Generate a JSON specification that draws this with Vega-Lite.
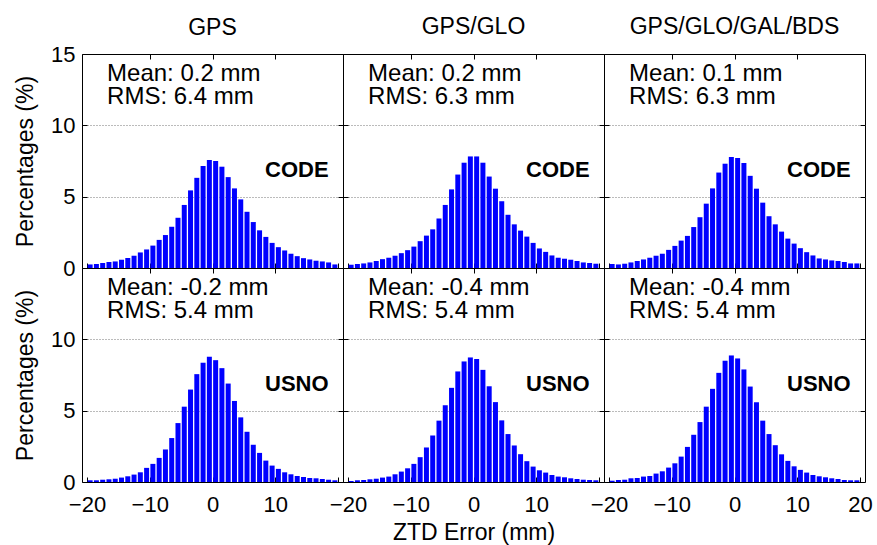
{
  "$schema": "https://vega.github.io/schema/vega-lite/v6.json",
  "background": "white",
  "padding": {"left": 14, "top": 15, "right": 5, "bottom": 2},
  "columns": 3,
  "spacing": 0,
  "bounds": "flush",
  "config": {
    "font": "Liberation Sans",
    "view": {"stroke": "#000000", "strokeWidth": 1},
    "concat": {"spacing": 0},
    "axis": {
      "domain": false,
      "labelFont": "Liberation Sans",
      "labelFontSize": 22,
      "labelColor": "#000000",
      "labelFlush": false,
      "labelPadding": 12,
      "tickColor": "#000000",
      "tickSize": -5,
      "grid": false,
      "gridColor": "#777777",
      "gridDash": [1, 2],
      "titleFont": "Liberation Sans",
      "titleFontSize": 23,
      "titleFontWeight": "normal",
      "titleColor": "#000000",
      "titlePadding": 10
    },
    "title": {"font": "Liberation Sans", "fontSize": 23, "fontWeight": "normal", "color": "#000000", "offset": 15, "frame": "group", "anchor": "middle"}
  },
  "datasets": {
    "notes": [
      {"system": "GPS", "center": "CODE", "mean": "Mean: 0.2 mm", "rms": "RMS: 6.4 mm"},
      {"system": "GPS/GLO", "center": "CODE", "mean": "Mean: 0.2 mm", "rms": "RMS: 6.3 mm"},
      {"system": "GPS/GLO/GAL/BDS", "center": "CODE", "mean": "Mean: 0.1 mm", "rms": "RMS: 6.3 mm"},
      {"system": "GPS", "center": "USNO", "mean": "Mean: -0.2 mm", "rms": "RMS: 5.4 mm"},
      {"system": "GPS/GLO", "center": "USNO", "mean": "Mean: -0.4 mm", "rms": "RMS: 5.4 mm"},
      {"system": "GPS/GLO/GAL/BDS", "center": "USNO", "mean": "Mean: -0.4 mm", "rms": "RMS: 5.4 mm"}
    ],
    "hist": [
      {"system": "GPS", "center": "CODE", "error": -19.5, "pct": 0.25},
      {"system": "GPS", "center": "CODE", "error": -18.5, "pct": 0.28},
      {"system": "GPS", "center": "CODE", "error": -17.5, "pct": 0.35},
      {"system": "GPS", "center": "CODE", "error": -16.5, "pct": 0.42},
      {"system": "GPS", "center": "CODE", "error": -15.5, "pct": 0.46},
      {"system": "GPS", "center": "CODE", "error": -14.5, "pct": 0.58},
      {"system": "GPS", "center": "CODE", "error": -13.5, "pct": 0.7},
      {"system": "GPS", "center": "CODE", "error": -12.5, "pct": 0.86},
      {"system": "GPS", "center": "CODE", "error": -11.5, "pct": 1.09},
      {"system": "GPS", "center": "CODE", "error": -10.5, "pct": 1.3},
      {"system": "GPS", "center": "CODE", "error": -9.5, "pct": 1.57},
      {"system": "GPS", "center": "CODE", "error": -8.5, "pct": 1.97},
      {"system": "GPS", "center": "CODE", "error": -7.5, "pct": 2.31},
      {"system": "GPS", "center": "CODE", "error": -6.5, "pct": 2.89},
      {"system": "GPS", "center": "CODE", "error": -5.5, "pct": 3.52},
      {"system": "GPS", "center": "CODE", "error": -4.5, "pct": 4.42},
      {"system": "GPS", "center": "CODE", "error": -3.5, "pct": 5.44},
      {"system": "GPS", "center": "CODE", "error": -2.5, "pct": 6.32},
      {"system": "GPS", "center": "CODE", "error": -1.5, "pct": 7.15},
      {"system": "GPS", "center": "CODE", "error": -0.5, "pct": 7.57},
      {"system": "GPS", "center": "CODE", "error": 0.5, "pct": 7.5},
      {"system": "GPS", "center": "CODE", "error": 1.5, "pct": 7.1},
      {"system": "GPS", "center": "CODE", "error": 2.5, "pct": 6.37},
      {"system": "GPS", "center": "CODE", "error": 3.5, "pct": 5.58},
      {"system": "GPS", "center": "CODE", "error": 4.5, "pct": 4.81},
      {"system": "GPS", "center": "CODE", "error": 5.5, "pct": 3.94},
      {"system": "GPS", "center": "CODE", "error": 6.5, "pct": 3.22},
      {"system": "GPS", "center": "CODE", "error": 7.5, "pct": 2.64},
      {"system": "GPS", "center": "CODE", "error": 8.5, "pct": 2.18},
      {"system": "GPS", "center": "CODE", "error": 9.5, "pct": 1.76},
      {"system": "GPS", "center": "CODE", "error": 10.5, "pct": 1.46},
      {"system": "GPS", "center": "CODE", "error": 11.5, "pct": 1.23},
      {"system": "GPS", "center": "CODE", "error": 12.5, "pct": 1.0},
      {"system": "GPS", "center": "CODE", "error": 13.5, "pct": 0.83},
      {"system": "GPS", "center": "CODE", "error": 14.5, "pct": 0.69},
      {"system": "GPS", "center": "CODE", "error": 15.5, "pct": 0.6},
      {"system": "GPS", "center": "CODE", "error": 16.5, "pct": 0.51},
      {"system": "GPS", "center": "CODE", "error": 17.5, "pct": 0.46},
      {"system": "GPS", "center": "CODE", "error": 18.5, "pct": 0.39},
      {"system": "GPS", "center": "CODE", "error": 19.5, "pct": 0.25},
      {"system": "GPS/GLO", "center": "CODE", "error": -19.5, "pct": 0.23},
      {"system": "GPS/GLO", "center": "CODE", "error": -18.5, "pct": 0.28},
      {"system": "GPS/GLO", "center": "CODE", "error": -17.5, "pct": 0.32},
      {"system": "GPS/GLO", "center": "CODE", "error": -16.5, "pct": 0.39},
      {"system": "GPS/GLO", "center": "CODE", "error": -15.5, "pct": 0.49},
      {"system": "GPS/GLO", "center": "CODE", "error": -14.5, "pct": 0.62},
      {"system": "GPS/GLO", "center": "CODE", "error": -13.5, "pct": 0.72},
      {"system": "GPS/GLO", "center": "CODE", "error": -12.5, "pct": 0.86},
      {"system": "GPS/GLO", "center": "CODE", "error": -11.5, "pct": 1.04},
      {"system": "GPS/GLO", "center": "CODE", "error": -10.5, "pct": 1.25},
      {"system": "GPS/GLO", "center": "CODE", "error": -9.5, "pct": 1.5},
      {"system": "GPS/GLO", "center": "CODE", "error": -8.5, "pct": 1.88},
      {"system": "GPS/GLO", "center": "CODE", "error": -7.5, "pct": 2.27},
      {"system": "GPS/GLO", "center": "CODE", "error": -6.5, "pct": 2.71},
      {"system": "GPS/GLO", "center": "CODE", "error": -5.5, "pct": 3.47},
      {"system": "GPS/GLO", "center": "CODE", "error": -4.5, "pct": 4.42},
      {"system": "GPS/GLO", "center": "CODE", "error": -3.5, "pct": 5.51},
      {"system": "GPS/GLO", "center": "CODE", "error": -2.5, "pct": 6.55},
      {"system": "GPS/GLO", "center": "CODE", "error": -1.5, "pct": 7.38},
      {"system": "GPS/GLO", "center": "CODE", "error": -0.5, "pct": 7.82},
      {"system": "GPS/GLO", "center": "CODE", "error": 0.5, "pct": 7.82},
      {"system": "GPS/GLO", "center": "CODE", "error": 1.5, "pct": 7.38},
      {"system": "GPS/GLO", "center": "CODE", "error": 2.5, "pct": 6.41},
      {"system": "GPS/GLO", "center": "CODE", "error": 3.5, "pct": 5.56},
      {"system": "GPS/GLO", "center": "CODE", "error": 4.5, "pct": 4.68},
      {"system": "GPS/GLO", "center": "CODE", "error": 5.5, "pct": 3.73},
      {"system": "GPS/GLO", "center": "CODE", "error": 6.5, "pct": 3.06},
      {"system": "GPS/GLO", "center": "CODE", "error": 7.5, "pct": 2.62},
      {"system": "GPS/GLO", "center": "CODE", "error": 8.5, "pct": 2.2},
      {"system": "GPS/GLO", "center": "CODE", "error": 9.5, "pct": 1.76},
      {"system": "GPS/GLO", "center": "CODE", "error": 10.5, "pct": 1.37},
      {"system": "GPS/GLO", "center": "CODE", "error": 11.5, "pct": 1.13},
      {"system": "GPS/GLO", "center": "CODE", "error": 12.5, "pct": 0.88},
      {"system": "GPS/GLO", "center": "CODE", "error": 13.5, "pct": 0.72},
      {"system": "GPS/GLO", "center": "CODE", "error": 14.5, "pct": 0.65},
      {"system": "GPS/GLO", "center": "CODE", "error": 15.5, "pct": 0.58},
      {"system": "GPS/GLO", "center": "CODE", "error": 16.5, "pct": 0.49},
      {"system": "GPS/GLO", "center": "CODE", "error": 17.5, "pct": 0.39},
      {"system": "GPS/GLO", "center": "CODE", "error": 18.5, "pct": 0.35},
      {"system": "GPS/GLO", "center": "CODE", "error": 19.5, "pct": 0.3},
      {"system": "GPS/GLO/GAL/BDS", "center": "CODE", "error": -19.5, "pct": 0.28},
      {"system": "GPS/GLO/GAL/BDS", "center": "CODE", "error": -18.5, "pct": 0.25},
      {"system": "GPS/GLO/GAL/BDS", "center": "CODE", "error": -17.5, "pct": 0.3},
      {"system": "GPS/GLO/GAL/BDS", "center": "CODE", "error": -16.5, "pct": 0.39},
      {"system": "GPS/GLO/GAL/BDS", "center": "CODE", "error": -15.5, "pct": 0.49},
      {"system": "GPS/GLO/GAL/BDS", "center": "CODE", "error": -14.5, "pct": 0.6},
      {"system": "GPS/GLO/GAL/BDS", "center": "CODE", "error": -13.5, "pct": 0.72},
      {"system": "GPS/GLO/GAL/BDS", "center": "CODE", "error": -12.5, "pct": 0.86},
      {"system": "GPS/GLO/GAL/BDS", "center": "CODE", "error": -11.5, "pct": 1.0},
      {"system": "GPS/GLO/GAL/BDS", "center": "CODE", "error": -10.5, "pct": 1.27},
      {"system": "GPS/GLO/GAL/BDS", "center": "CODE", "error": -9.5, "pct": 1.55},
      {"system": "GPS/GLO/GAL/BDS", "center": "CODE", "error": -8.5, "pct": 1.92},
      {"system": "GPS/GLO/GAL/BDS", "center": "CODE", "error": -7.5, "pct": 2.25},
      {"system": "GPS/GLO/GAL/BDS", "center": "CODE", "error": -6.5, "pct": 2.87},
      {"system": "GPS/GLO/GAL/BDS", "center": "CODE", "error": -5.5, "pct": 3.56},
      {"system": "GPS/GLO/GAL/BDS", "center": "CODE", "error": -4.5, "pct": 4.51},
      {"system": "GPS/GLO/GAL/BDS", "center": "CODE", "error": -3.5, "pct": 5.58},
      {"system": "GPS/GLO/GAL/BDS", "center": "CODE", "error": -2.5, "pct": 6.69},
      {"system": "GPS/GLO/GAL/BDS", "center": "CODE", "error": -1.5, "pct": 7.31},
      {"system": "GPS/GLO/GAL/BDS", "center": "CODE", "error": -0.5, "pct": 7.78},
      {"system": "GPS/GLO/GAL/BDS", "center": "CODE", "error": 0.5, "pct": 7.71},
      {"system": "GPS/GLO/GAL/BDS", "center": "CODE", "error": 1.5, "pct": 7.36},
      {"system": "GPS/GLO/GAL/BDS", "center": "CODE", "error": 2.5, "pct": 6.46},
      {"system": "GPS/GLO/GAL/BDS", "center": "CODE", "error": 3.5, "pct": 5.56},
      {"system": "GPS/GLO/GAL/BDS", "center": "CODE", "error": 4.5, "pct": 4.58},
      {"system": "GPS/GLO/GAL/BDS", "center": "CODE", "error": 5.5, "pct": 3.63},
      {"system": "GPS/GLO/GAL/BDS", "center": "CODE", "error": 6.5, "pct": 3.06},
      {"system": "GPS/GLO/GAL/BDS", "center": "CODE", "error": 7.5, "pct": 2.55},
      {"system": "GPS/GLO/GAL/BDS", "center": "CODE", "error": 8.5, "pct": 2.06},
      {"system": "GPS/GLO/GAL/BDS", "center": "CODE", "error": 9.5, "pct": 1.71},
      {"system": "GPS/GLO/GAL/BDS", "center": "CODE", "error": 10.5, "pct": 1.39},
      {"system": "GPS/GLO/GAL/BDS", "center": "CODE", "error": 11.5, "pct": 1.11},
      {"system": "GPS/GLO/GAL/BDS", "center": "CODE", "error": 12.5, "pct": 0.88},
      {"system": "GPS/GLO/GAL/BDS", "center": "CODE", "error": 13.5, "pct": 0.67},
      {"system": "GPS/GLO/GAL/BDS", "center": "CODE", "error": 14.5, "pct": 0.6},
      {"system": "GPS/GLO/GAL/BDS", "center": "CODE", "error": 15.5, "pct": 0.53},
      {"system": "GPS/GLO/GAL/BDS", "center": "CODE", "error": 16.5, "pct": 0.49},
      {"system": "GPS/GLO/GAL/BDS", "center": "CODE", "error": 17.5, "pct": 0.42},
      {"system": "GPS/GLO/GAL/BDS", "center": "CODE", "error": 18.5, "pct": 0.32},
      {"system": "GPS/GLO/GAL/BDS", "center": "CODE", "error": 19.5, "pct": 0.32},
      {"system": "GPS", "center": "USNO", "error": -19.5, "pct": 0.12},
      {"system": "GPS", "center": "USNO", "error": -18.5, "pct": 0.12},
      {"system": "GPS", "center": "USNO", "error": -17.5, "pct": 0.16},
      {"system": "GPS", "center": "USNO", "error": -16.5, "pct": 0.19},
      {"system": "GPS", "center": "USNO", "error": -15.5, "pct": 0.23},
      {"system": "GPS", "center": "USNO", "error": -14.5, "pct": 0.31},
      {"system": "GPS", "center": "USNO", "error": -13.5, "pct": 0.4},
      {"system": "GPS", "center": "USNO", "error": -12.5, "pct": 0.52},
      {"system": "GPS", "center": "USNO", "error": -11.5, "pct": 0.68},
      {"system": "GPS", "center": "USNO", "error": -10.5, "pct": 0.99},
      {"system": "GPS", "center": "USNO", "error": -9.5, "pct": 1.27},
      {"system": "GPS", "center": "USNO", "error": -8.5, "pct": 1.69},
      {"system": "GPS", "center": "USNO", "error": -7.5, "pct": 2.28},
      {"system": "GPS", "center": "USNO", "error": -6.5, "pct": 3.08},
      {"system": "GPS", "center": "USNO", "error": -5.5, "pct": 4.13},
      {"system": "GPS", "center": "USNO", "error": -4.5, "pct": 5.28},
      {"system": "GPS", "center": "USNO", "error": -3.5, "pct": 6.48},
      {"system": "GPS", "center": "USNO", "error": -2.5, "pct": 7.56},
      {"system": "GPS", "center": "USNO", "error": -1.5, "pct": 8.36},
      {"system": "GPS", "center": "USNO", "error": -0.5, "pct": 8.78},
      {"system": "GPS", "center": "USNO", "error": 0.5, "pct": 8.54},
      {"system": "GPS", "center": "USNO", "error": 1.5, "pct": 7.98},
      {"system": "GPS", "center": "USNO", "error": 2.5, "pct": 6.9},
      {"system": "GPS", "center": "USNO", "error": 3.5, "pct": 5.68},
      {"system": "GPS", "center": "USNO", "error": 4.5, "pct": 4.53},
      {"system": "GPS", "center": "USNO", "error": 5.5, "pct": 3.52},
      {"system": "GPS", "center": "USNO", "error": 6.5, "pct": 2.61},
      {"system": "GPS", "center": "USNO", "error": 7.5, "pct": 2.04},
      {"system": "GPS", "center": "USNO", "error": 8.5, "pct": 1.5},
      {"system": "GPS", "center": "USNO", "error": 9.5, "pct": 1.15},
      {"system": "GPS", "center": "USNO", "error": 10.5, "pct": 0.92},
      {"system": "GPS", "center": "USNO", "error": 11.5, "pct": 0.68},
      {"system": "GPS", "center": "USNO", "error": 12.5, "pct": 0.54},
      {"system": "GPS", "center": "USNO", "error": 13.5, "pct": 0.42},
      {"system": "GPS", "center": "USNO", "error": 14.5, "pct": 0.35},
      {"system": "GPS", "center": "USNO", "error": 15.5, "pct": 0.28},
      {"system": "GPS", "center": "USNO", "error": 16.5, "pct": 0.26},
      {"system": "GPS", "center": "USNO", "error": 17.5, "pct": 0.21},
      {"system": "GPS", "center": "USNO", "error": 18.5, "pct": 0.16},
      {"system": "GPS", "center": "USNO", "error": 19.5, "pct": 0.12},
      {"system": "GPS/GLO", "center": "USNO", "error": -19.5, "pct": 0.07},
      {"system": "GPS/GLO", "center": "USNO", "error": -18.5, "pct": 0.12},
      {"system": "GPS/GLO", "center": "USNO", "error": -17.5, "pct": 0.14},
      {"system": "GPS/GLO", "center": "USNO", "error": -16.5, "pct": 0.19},
      {"system": "GPS/GLO", "center": "USNO", "error": -15.5, "pct": 0.23},
      {"system": "GPS/GLO", "center": "USNO", "error": -14.5, "pct": 0.31},
      {"system": "GPS/GLO", "center": "USNO", "error": -13.5, "pct": 0.38},
      {"system": "GPS/GLO", "center": "USNO", "error": -12.5, "pct": 0.54},
      {"system": "GPS/GLO", "center": "USNO", "error": -11.5, "pct": 0.73},
      {"system": "GPS/GLO", "center": "USNO", "error": -10.5, "pct": 0.96},
      {"system": "GPS/GLO", "center": "USNO", "error": -9.5, "pct": 1.27},
      {"system": "GPS/GLO", "center": "USNO", "error": -8.5, "pct": 1.74},
      {"system": "GPS/GLO", "center": "USNO", "error": -7.5, "pct": 2.42},
      {"system": "GPS/GLO", "center": "USNO", "error": -6.5, "pct": 3.26},
      {"system": "GPS/GLO", "center": "USNO", "error": -5.5, "pct": 4.3},
      {"system": "GPS/GLO", "center": "USNO", "error": -4.5, "pct": 5.38},
      {"system": "GPS/GLO", "center": "USNO", "error": -3.5, "pct": 6.6},
      {"system": "GPS/GLO", "center": "USNO", "error": -2.5, "pct": 7.75},
      {"system": "GPS/GLO", "center": "USNO", "error": -1.5, "pct": 8.45},
      {"system": "GPS/GLO", "center": "USNO", "error": -0.5, "pct": 8.73},
      {"system": "GPS/GLO", "center": "USNO", "error": 0.5, "pct": 8.62},
      {"system": "GPS/GLO", "center": "USNO", "error": 1.5, "pct": 7.86},
      {"system": "GPS/GLO", "center": "USNO", "error": 2.5, "pct": 6.71},
      {"system": "GPS/GLO", "center": "USNO", "error": 3.5, "pct": 5.6},
      {"system": "GPS/GLO", "center": "USNO", "error": 4.5, "pct": 4.32},
      {"system": "GPS/GLO", "center": "USNO", "error": 5.5, "pct": 3.36},
      {"system": "GPS/GLO", "center": "USNO", "error": 6.5, "pct": 2.56},
      {"system": "GPS/GLO", "center": "USNO", "error": 7.5, "pct": 1.95},
      {"system": "GPS/GLO", "center": "USNO", "error": 8.5, "pct": 1.46},
      {"system": "GPS/GLO", "center": "USNO", "error": 9.5, "pct": 1.08},
      {"system": "GPS/GLO", "center": "USNO", "error": 10.5, "pct": 0.82},
      {"system": "GPS/GLO", "center": "USNO", "error": 11.5, "pct": 0.66},
      {"system": "GPS/GLO", "center": "USNO", "error": 12.5, "pct": 0.49},
      {"system": "GPS/GLO", "center": "USNO", "error": 13.5, "pct": 0.38},
      {"system": "GPS/GLO", "center": "USNO", "error": 14.5, "pct": 0.33},
      {"system": "GPS/GLO", "center": "USNO", "error": 15.5, "pct": 0.26},
      {"system": "GPS/GLO", "center": "USNO", "error": 16.5, "pct": 0.21},
      {"system": "GPS/GLO", "center": "USNO", "error": 17.5, "pct": 0.16},
      {"system": "GPS/GLO", "center": "USNO", "error": 18.5, "pct": 0.14},
      {"system": "GPS/GLO", "center": "USNO", "error": 19.5, "pct": 0.12},
      {"system": "GPS/GLO/GAL/BDS", "center": "USNO", "error": -19.5, "pct": 0.09},
      {"system": "GPS/GLO/GAL/BDS", "center": "USNO", "error": -18.5, "pct": 0.14},
      {"system": "GPS/GLO/GAL/BDS", "center": "USNO", "error": -17.5, "pct": 0.16},
      {"system": "GPS/GLO/GAL/BDS", "center": "USNO", "error": -16.5, "pct": 0.26},
      {"system": "GPS/GLO/GAL/BDS", "center": "USNO", "error": -15.5, "pct": 0.28},
      {"system": "GPS/GLO/GAL/BDS", "center": "USNO", "error": -14.5, "pct": 0.38},
      {"system": "GPS/GLO/GAL/BDS", "center": "USNO", "error": -13.5, "pct": 0.42},
      {"system": "GPS/GLO/GAL/BDS", "center": "USNO", "error": -12.5, "pct": 0.59},
      {"system": "GPS/GLO/GAL/BDS", "center": "USNO", "error": -11.5, "pct": 0.75},
      {"system": "GPS/GLO/GAL/BDS", "center": "USNO", "error": -10.5, "pct": 1.01},
      {"system": "GPS/GLO/GAL/BDS", "center": "USNO", "error": -9.5, "pct": 1.31},
      {"system": "GPS/GLO/GAL/BDS", "center": "USNO", "error": -8.5, "pct": 1.78},
      {"system": "GPS/GLO/GAL/BDS", "center": "USNO", "error": -7.5, "pct": 2.46},
      {"system": "GPS/GLO/GAL/BDS", "center": "USNO", "error": -6.5, "pct": 3.31},
      {"system": "GPS/GLO/GAL/BDS", "center": "USNO", "error": -5.5, "pct": 4.2},
      {"system": "GPS/GLO/GAL/BDS", "center": "USNO", "error": -4.5, "pct": 5.28},
      {"system": "GPS/GLO/GAL/BDS", "center": "USNO", "error": -3.5, "pct": 6.53},
      {"system": "GPS/GLO/GAL/BDS", "center": "USNO", "error": -2.5, "pct": 7.65},
      {"system": "GPS/GLO/GAL/BDS", "center": "USNO", "error": -1.5, "pct": 8.5},
      {"system": "GPS/GLO/GAL/BDS", "center": "USNO", "error": -0.5, "pct": 8.87},
      {"system": "GPS/GLO/GAL/BDS", "center": "USNO", "error": 0.5, "pct": 8.66},
      {"system": "GPS/GLO/GAL/BDS", "center": "USNO", "error": 1.5, "pct": 7.89},
      {"system": "GPS/GLO/GAL/BDS", "center": "USNO", "error": 2.5, "pct": 6.69},
      {"system": "GPS/GLO/GAL/BDS", "center": "USNO", "error": 3.5, "pct": 5.59},
      {"system": "GPS/GLO/GAL/BDS", "center": "USNO", "error": 4.5, "pct": 4.3},
      {"system": "GPS/GLO/GAL/BDS", "center": "USNO", "error": 5.5, "pct": 3.36},
      {"system": "GPS/GLO/GAL/BDS", "center": "USNO", "error": 6.5, "pct": 2.58},
      {"system": "GPS/GLO/GAL/BDS", "center": "USNO", "error": 7.5, "pct": 1.94},
      {"system": "GPS/GLO/GAL/BDS", "center": "USNO", "error": 8.5, "pct": 1.48},
      {"system": "GPS/GLO/GAL/BDS", "center": "USNO", "error": 9.5, "pct": 1.1},
      {"system": "GPS/GLO/GAL/BDS", "center": "USNO", "error": 10.5, "pct": 0.85},
      {"system": "GPS/GLO/GAL/BDS", "center": "USNO", "error": 11.5, "pct": 0.66},
      {"system": "GPS/GLO/GAL/BDS", "center": "USNO", "error": 12.5, "pct": 0.49},
      {"system": "GPS/GLO/GAL/BDS", "center": "USNO", "error": 13.5, "pct": 0.4},
      {"system": "GPS/GLO/GAL/BDS", "center": "USNO", "error": 14.5, "pct": 0.33},
      {"system": "GPS/GLO/GAL/BDS", "center": "USNO", "error": 15.5, "pct": 0.26},
      {"system": "GPS/GLO/GAL/BDS", "center": "USNO", "error": 16.5, "pct": 0.21},
      {"system": "GPS/GLO/GAL/BDS", "center": "USNO", "error": 17.5, "pct": 0.14},
      {"system": "GPS/GLO/GAL/BDS", "center": "USNO", "error": 18.5, "pct": 0.12},
      {"system": "GPS/GLO/GAL/BDS", "center": "USNO", "error": 19.5, "pct": 0.12}
    ]
  },
  "concat": [
    {
      "width": 261, "height": 214,
      "title": {"text": "GPS", "offset": 3},
      "layer": [
        {
          "data": {"name": "hist"},
          "transform": [{"filter": "datum.system === 'GPS' && datum.center === 'CODE'"}],
          "mark": {"type": "bar", "color": "#0000ff", "width": 5},
          "encoding": {
            "x": {"field": "error", "type": "quantitative", "scale": {"domain": [-20, 20], "nice": false, "zero": false}, "axis": {"orient": "bottom", "values": [-20, -10, 0, 10, 20], "labels": false, "title": null}},
            "y": {"field": "pct", "type": "quantitative", "scale": {"domain": [0, 15], "nice": false}, "axis": {"orient": "left", "values": [0, 5, 10, 15], "title": "Percentages (%)", "titlePadding": 13}}
          }
        },
        {
          "data": {"name": "notes"},
          "transform": [{"filter": "datum.system === 'GPS' && datum.center === 'CODE'"}],
          "mark": {"type": "text", "align": "left", "baseline": "alphabetic", "fontSize": 24, "color": "#000000"},
          "encoding": {
            "x": {"datum": -16.8, "type": "quantitative", "axis": {"orient": "top", "values": [-10, 0, 10], "labels": false, "title": null}},
            "y": {"datum": 13.1, "type": "quantitative", "axis": {"orient": "right", "values": [5, 10], "labels": false, "title": null, "grid": true}},
            "text": {"field": "mean"}
          }
        },
        {
          "data": {"name": "notes"},
          "transform": [{"filter": "datum.system === 'GPS' && datum.center === 'CODE'"}],
          "mark": {"type": "text", "align": "left", "baseline": "alphabetic", "fontSize": 24, "color": "#000000"},
          "encoding": {
            "x": {"datum": -16.8, "type": "quantitative", "axis": null},
            "y": {"datum": 11.5, "type": "quantitative", "axis": null},
            "text": {"field": "rms"}
          }
        },
        {
          "data": {"name": "notes"},
          "transform": [{"filter": "datum.system === 'GPS' && datum.center === 'CODE'"}],
          "mark": {"type": "text", "align": "right", "baseline": "alphabetic", "fontSize": 22, "fontWeight": "bold", "color": "#000000"},
          "encoding": {
            "x": {"datum": 18.5, "type": "quantitative", "axis": null},
            "y": {"datum": 6.4, "type": "quantitative", "axis": null},
            "text": {"field": "center"}
          }
        }
      ]
    },
    {
      "width": 261, "height": 214,
      "title": "GPS/GLO",
      "layer": [
        {
          "data": {"name": "hist"},
          "transform": [{"filter": "datum.system === 'GPS/GLO' && datum.center === 'CODE'"}],
          "mark": {"type": "bar", "color": "#0000ff", "width": 5},
          "encoding": {
            "x": {"field": "error", "type": "quantitative", "scale": {"domain": [-20, 20], "nice": false, "zero": false}, "axis": {"orient": "bottom", "values": [-20, -10, 0, 10, 20], "labels": false, "title": null}},
            "y": {"field": "pct", "type": "quantitative", "scale": {"domain": [0, 15], "nice": false}, "axis": {"orient": "left", "values": [0, 5, 10, 15], "labels": false, "title": null}}
          }
        },
        {
          "data": {"name": "notes"},
          "transform": [{"filter": "datum.system === 'GPS/GLO' && datum.center === 'CODE'"}],
          "mark": {"type": "text", "align": "left", "baseline": "alphabetic", "fontSize": 24, "color": "#000000"},
          "encoding": {
            "x": {"datum": -16.8, "type": "quantitative", "axis": {"orient": "top", "values": [-10, 0, 10], "labels": false, "title": null}},
            "y": {"datum": 13.1, "type": "quantitative", "axis": {"orient": "right", "values": [5, 10], "labels": false, "title": null, "grid": true}},
            "text": {"field": "mean"}
          }
        },
        {
          "data": {"name": "notes"},
          "transform": [{"filter": "datum.system === 'GPS/GLO' && datum.center === 'CODE'"}],
          "mark": {"type": "text", "align": "left", "baseline": "alphabetic", "fontSize": 24, "color": "#000000"},
          "encoding": {
            "x": {"datum": -16.8, "type": "quantitative", "axis": null},
            "y": {"datum": 11.5, "type": "quantitative", "axis": null},
            "text": {"field": "rms"}
          }
        },
        {
          "data": {"name": "notes"},
          "transform": [{"filter": "datum.system === 'GPS/GLO' && datum.center === 'CODE'"}],
          "mark": {"type": "text", "align": "right", "baseline": "alphabetic", "fontSize": 22, "fontWeight": "bold", "color": "#000000"},
          "encoding": {
            "x": {"datum": 18.5, "type": "quantitative", "axis": null},
            "y": {"datum": 6.4, "type": "quantitative", "axis": null},
            "text": {"field": "center"}
          }
        }
      ]
    },
    {
      "width": 261, "height": 214,
      "title": "GPS/GLO/GAL/BDS",
      "layer": [
        {
          "data": {"name": "hist"},
          "transform": [{"filter": "datum.system === 'GPS/GLO/GAL/BDS' && datum.center === 'CODE'"}],
          "mark": {"type": "bar", "color": "#0000ff", "width": 5},
          "encoding": {
            "x": {"field": "error", "type": "quantitative", "scale": {"domain": [-20, 20], "nice": false, "zero": false}, "axis": {"orient": "bottom", "values": [-20, -10, 0, 10, 20], "labels": false, "title": null}},
            "y": {"field": "pct", "type": "quantitative", "scale": {"domain": [0, 15], "nice": false}, "axis": {"orient": "left", "values": [0, 5, 10, 15], "labels": false, "title": null}}
          }
        },
        {
          "data": {"name": "notes"},
          "transform": [{"filter": "datum.system === 'GPS/GLO/GAL/BDS' && datum.center === 'CODE'"}],
          "mark": {"type": "text", "align": "left", "baseline": "alphabetic", "fontSize": 24, "color": "#000000"},
          "encoding": {
            "x": {"datum": -16.8, "type": "quantitative", "axis": {"orient": "top", "values": [-10, 0, 10], "labels": false, "title": null}},
            "y": {"datum": 13.1, "type": "quantitative", "axis": {"orient": "right", "values": [5, 10], "labels": false, "title": null, "grid": true}},
            "text": {"field": "mean"}
          }
        },
        {
          "data": {"name": "notes"},
          "transform": [{"filter": "datum.system === 'GPS/GLO/GAL/BDS' && datum.center === 'CODE'"}],
          "mark": {"type": "text", "align": "left", "baseline": "alphabetic", "fontSize": 24, "color": "#000000"},
          "encoding": {
            "x": {"datum": -16.8, "type": "quantitative", "axis": null},
            "y": {"datum": 11.5, "type": "quantitative", "axis": null},
            "text": {"field": "rms"}
          }
        },
        {
          "data": {"name": "notes"},
          "transform": [{"filter": "datum.system === 'GPS/GLO/GAL/BDS' && datum.center === 'CODE'"}],
          "mark": {"type": "text", "align": "right", "baseline": "alphabetic", "fontSize": 22, "fontWeight": "bold", "color": "#000000"},
          "encoding": {
            "x": {"datum": 18.5, "type": "quantitative", "axis": null},
            "y": {"datum": 6.4, "type": "quantitative", "axis": null},
            "text": {"field": "center"}
          }
        }
      ]
    },
    {
      "width": 261, "height": 214,
      "layer": [
        {
          "data": {"name": "hist"},
          "transform": [{"filter": "datum.system === 'GPS' && datum.center === 'USNO'"}],
          "mark": {"type": "bar", "color": "#0000ff", "width": 5},
          "encoding": {
            "x": {"field": "error", "type": "quantitative", "scale": {"domain": [-20, 20], "nice": false, "zero": false}, "axis": {"orient": "bottom", "values": [-20, -10, 0, 10, 20], "labelExpr": "datum.value === 20 ? '' : datum.label", "labelPadding": 17, "title": null}},
            "y": {"field": "pct", "type": "quantitative", "scale": {"domain": [0, 15], "nice": false}, "axis": {"orient": "left", "values": [0, 5, 10], "title": "Percentages (%)", "titlePadding": 13}}
          }
        },
        {
          "data": {"name": "notes"},
          "transform": [{"filter": "datum.system === 'GPS' && datum.center === 'USNO'"}],
          "mark": {"type": "text", "align": "left", "baseline": "alphabetic", "fontSize": 24, "color": "#000000"},
          "encoding": {
            "x": {"datum": -16.8, "type": "quantitative", "axis": {"orient": "top", "values": [-10, 0, 10], "labels": false, "title": null}},
            "y": {"datum": 13.1, "type": "quantitative", "axis": {"orient": "right", "values": [5, 10], "labels": false, "title": null, "grid": true}},
            "text": {"field": "mean"}
          }
        },
        {
          "data": {"name": "notes"},
          "transform": [{"filter": "datum.system === 'GPS' && datum.center === 'USNO'"}],
          "mark": {"type": "text", "align": "left", "baseline": "alphabetic", "fontSize": 24, "color": "#000000"},
          "encoding": {
            "x": {"datum": -16.8, "type": "quantitative", "axis": null},
            "y": {"datum": 11.5, "type": "quantitative", "axis": null},
            "text": {"field": "rms"}
          }
        },
        {
          "data": {"name": "notes"},
          "transform": [{"filter": "datum.system === 'GPS' && datum.center === 'USNO'"}],
          "mark": {"type": "text", "align": "right", "baseline": "alphabetic", "fontSize": 22, "fontWeight": "bold", "color": "#000000"},
          "encoding": {
            "x": {"datum": 18.5, "type": "quantitative", "axis": null},
            "y": {"datum": 6.4, "type": "quantitative", "axis": null},
            "text": {"field": "center"}
          }
        }
      ]
    },
    {
      "width": 261, "height": 214,
      "layer": [
        {
          "data": {"name": "hist"},
          "transform": [{"filter": "datum.system === 'GPS/GLO' && datum.center === 'USNO'"}],
          "mark": {"type": "bar", "color": "#0000ff", "width": 5},
          "encoding": {
            "x": {"field": "error", "type": "quantitative", "scale": {"domain": [-20, 20], "nice": false, "zero": false}, "axis": {"orient": "bottom", "values": [-20, -10, 0, 10, 20], "labelExpr": "datum.value === 20 ? '' : datum.label", "labelPadding": 17, "title": "ZTD Error (mm)", "titlePadding": 6}},
            "y": {"field": "pct", "type": "quantitative", "scale": {"domain": [0, 15], "nice": false}, "axis": {"orient": "left", "values": [0, 5, 10, 15], "labels": false, "title": null}}
          }
        },
        {
          "data": {"name": "notes"},
          "transform": [{"filter": "datum.system === 'GPS/GLO' && datum.center === 'USNO'"}],
          "mark": {"type": "text", "align": "left", "baseline": "alphabetic", "fontSize": 24, "color": "#000000"},
          "encoding": {
            "x": {"datum": -16.8, "type": "quantitative", "axis": {"orient": "top", "values": [-10, 0, 10], "labels": false, "title": null}},
            "y": {"datum": 13.1, "type": "quantitative", "axis": {"orient": "right", "values": [5, 10], "labels": false, "title": null, "grid": true}},
            "text": {"field": "mean"}
          }
        },
        {
          "data": {"name": "notes"},
          "transform": [{"filter": "datum.system === 'GPS/GLO' && datum.center === 'USNO'"}],
          "mark": {"type": "text", "align": "left", "baseline": "alphabetic", "fontSize": 24, "color": "#000000"},
          "encoding": {
            "x": {"datum": -16.8, "type": "quantitative", "axis": null},
            "y": {"datum": 11.5, "type": "quantitative", "axis": null},
            "text": {"field": "rms"}
          }
        },
        {
          "data": {"name": "notes"},
          "transform": [{"filter": "datum.system === 'GPS/GLO' && datum.center === 'USNO'"}],
          "mark": {"type": "text", "align": "right", "baseline": "alphabetic", "fontSize": 22, "fontWeight": "bold", "color": "#000000"},
          "encoding": {
            "x": {"datum": 18.5, "type": "quantitative", "axis": null},
            "y": {"datum": 6.4, "type": "quantitative", "axis": null},
            "text": {"field": "center"}
          }
        }
      ]
    },
    {
      "width": 261, "height": 214,
      "layer": [
        {
          "data": {"name": "hist"},
          "transform": [{"filter": "datum.system === 'GPS/GLO/GAL/BDS' && datum.center === 'USNO'"}],
          "mark": {"type": "bar", "color": "#0000ff", "width": 5},
          "encoding": {
            "x": {"field": "error", "type": "quantitative", "scale": {"domain": [-20, 20], "nice": false, "zero": false}, "axis": {"orient": "bottom", "values": [-20, -10, 0, 10, 20], "labelPadding": 17, "title": null}},
            "y": {"field": "pct", "type": "quantitative", "scale": {"domain": [0, 15], "nice": false}, "axis": {"orient": "left", "values": [0, 5, 10, 15], "labels": false, "title": null}}
          }
        },
        {
          "data": {"name": "notes"},
          "transform": [{"filter": "datum.system === 'GPS/GLO/GAL/BDS' && datum.center === 'USNO'"}],
          "mark": {"type": "text", "align": "left", "baseline": "alphabetic", "fontSize": 24, "color": "#000000"},
          "encoding": {
            "x": {"datum": -16.8, "type": "quantitative", "axis": {"orient": "top", "values": [-10, 0, 10], "labels": false, "title": null}},
            "y": {"datum": 13.1, "type": "quantitative", "axis": {"orient": "right", "values": [5, 10], "labels": false, "title": null, "grid": true}},
            "text": {"field": "mean"}
          }
        },
        {
          "data": {"name": "notes"},
          "transform": [{"filter": "datum.system === 'GPS/GLO/GAL/BDS' && datum.center === 'USNO'"}],
          "mark": {"type": "text", "align": "left", "baseline": "alphabetic", "fontSize": 24, "color": "#000000"},
          "encoding": {
            "x": {"datum": -16.8, "type": "quantitative", "axis": null},
            "y": {"datum": 11.5, "type": "quantitative", "axis": null},
            "text": {"field": "rms"}
          }
        },
        {
          "data": {"name": "notes"},
          "transform": [{"filter": "datum.system === 'GPS/GLO/GAL/BDS' && datum.center === 'USNO'"}],
          "mark": {"type": "text", "align": "right", "baseline": "alphabetic", "fontSize": 22, "fontWeight": "bold", "color": "#000000"},
          "encoding": {
            "x": {"datum": 18.5, "type": "quantitative", "axis": null},
            "y": {"datum": 6.4, "type": "quantitative", "axis": null},
            "text": {"field": "center"}
          }
        }
      ]
    }
  ]
}
